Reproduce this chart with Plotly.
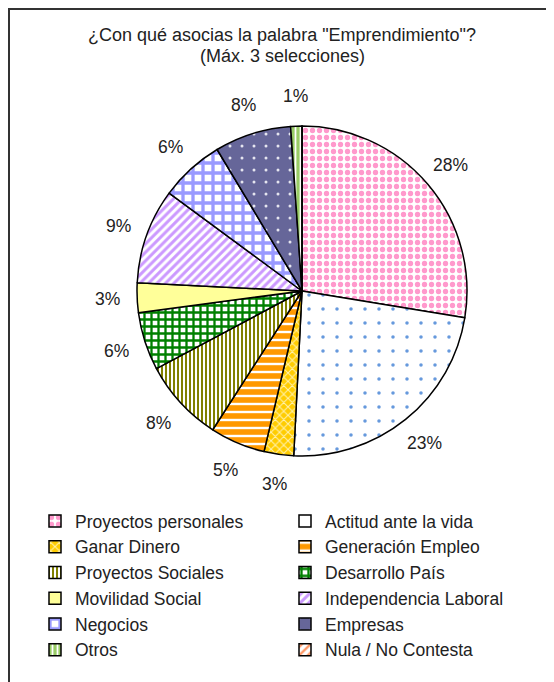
import math
import plotly.graph_objects as go

# survey answers, clockwise from 12 o'clock
labels = [
    "Proyectos personales", "Actitud ante la vida", "Ganar Dinero",
    "Generación Empleo", "Proyectos Sociales", "Desarrollo País",
    "Movilidad Social", "Independencia Laboral", "Negocios",
    "Empresas", "Otros", "Nula / No Contesta",
]
shares = [27.6, 23.2, 2.9, 5.4, 8.1, 5.7, 2.9, 9.3, 6.3, 7.5, 1.1, 0.0]

# excel-ish fills: background, foreground, pattern shape
bg = ["#FFFFFF", "#FFFFFF", "#FFCC00", "#FF9900", "#FFFFFF", "#FFFFFF",
      "#FFFF99", "#FFFFFF", "#FFFFFF", "#666699", "#99CC66", "#FFFFFF"]
fg = ["#FF99CC", "#6699DD", "#FFF2B0", "#FFFFFF", "#808000", "#008000",
      "#FFFF99", "#CC99FF", "#9999FF", "#E6E6F0", "#FFFFFF", "#FF9966"]
shapes = [".", ".", "x", "-", "|", "+", "", "/", "+", ".", "|", "/"]
solidity = [0.45, 0.05, 0.3, 0.3, 0.5, 0.55, 0.3, 0.5, 0.55, 0.05, 0.35, 0.4]
psize = [7, 14, 6, 8, 4, 7, 8, 6, 10, 12, 5, 6]

W, H = 554, 682
OFF = 8                     # the page body adds 8px around the figure
CX, CY, R = 302 - OFF, 291 - OFF, 165   # pie centre / radius in figure px
LABEL_R = R + 30

fig = go.Figure(go.Pie(
    labels=labels, values=shares, sort=False, direction="clockwise",
    rotation=0, textinfo="none",
    marker=dict(
        colors=bg,
        line=dict(color="black", width=1.5),
        pattern=dict(shape=shapes, fgcolor=fg, bgcolor=bg, fgopacity=1,
                     solidity=solidity, size=psize, fillmode="overlay"),
    ),
    domain=dict(x=[(CX - R) / W, (CX + R) / W], y=[1 - (CY + R) / H, 1 - (CY - R) / H]),
))

# percentage labels sitting just outside each slice (excel style, no leader lines)
total = sum(shares)
annots = []
cum = 0.0
for v in shares:
    mid = (cum + v / 2) / total * 2 * math.pi
    cum += v
    if v <= 0:
        continue
    px = CX + LABEL_R * math.sin(mid)
    py = CY - LABEL_R * math.cos(mid)
    annots.append(dict(
        text=f"{round(v / total * 100)}%", x=px / W, y=1 - py / H,
        xref="paper", yref="paper", xanchor="center", yanchor="middle",
        showarrow=False, font=dict(size=17.5, color="#222222"),
    ))

title_lines = ['¿Con qué asocias la palabra "Emprendimiento"?', "(Máx. 3 selecciones)"]
title_y = [35 - OFF, 56 - OFF]
for t, ty in zip(title_lines, title_y):
    annots.append(dict(
        text=t, x=(282 - OFF) / W, y=1 - ty / H, xref="paper", yref="paper",
        xanchor="center", yanchor="middle", showarrow=False,
        font=dict(size=18, color="#222222"),
    ))

# frame around the chart (runs off the right and bottom edges)
fig.add_shape(type="rect", xref="paper", yref="paper",
              x0=1 / W, x1=1.05, y0=-0.05, y1=1 - 1 / H,
              line=dict(color="#333333", width=2))

fig.update_layout(
    width=W, height=H,
    margin=dict(l=0, r=0, t=0, b=0),
    paper_bgcolor="white",
    font=dict(family="Liberation Sans, Arial", color="#222222"),
    annotations=annots,
    legend=dict(
        orientation="h", x=27 / W, y=1 - 495 / H, xanchor="left", yanchor="top",
        entrywidth=205, entrywidthmode="pixels",
        bgcolor="rgba(0,0,0,0)",
        font=dict(size=17.5, color="#222222"),
        itemwidth=30,
    ),
)

fig.write_html("out.html")
